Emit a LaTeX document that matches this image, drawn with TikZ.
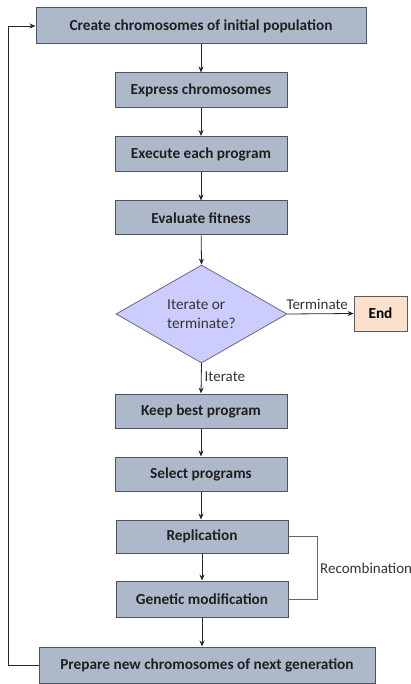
\documentclass[tikz,border=0pt]{standalone}
\usepackage{fontspec}
\setmainfont{Carlito}
\usetikzlibrary{shapes.geometric,arrows.meta}
\definecolor{boxfill}{HTML}{ADB9CA}
\definecolor{boxline}{HTML}{4A5462}
\definecolor{diafill}{HTML}{CCCCFF}
\definecolor{diline}{HTML}{6A6A80}
\definecolor{endfill}{HTML}{FBE0CC}
\definecolor{endline}{HTML}{5A5A5A}
\tikzset{
  stepbox/.style={draw=boxline, fill=boxfill, line width=1pt, inner sep=0pt,
    font=\fontsize{15.3}{17}\selectfont\bfseries, text=black!88},
  decide/.style={diamond, draw=diline, fill=diafill, line width=0.8pt, inner sep=0pt,
    minimum width=171pt, minimum height=98pt, aspect=1.745,
    font=\fontsize{15.3}{19}\selectfont, align=left, text=black!80},
  endbox/.style={draw=endline, fill=endfill, line width=0.8pt, inner sep=0pt,
    font=\fontsize{15.3}{17}\selectfont\bfseries, minimum width=53pt, minimum height=35pt},
  flow/.style={draw=black!85, line width=0.8pt, -{Stealth[length=6pt,width=5pt]}},
  lbl/.style={font=\fontsize{15}{17}\selectfont, text=black!80, inner sep=0pt},
  bracket/.style={draw=black!60, line width=0.7pt}
}
\begin{document}
\begin{tikzpicture}[x=1pt,y=-1pt]
\useasboundingbox (0,0) rectangle (411,684);
\node[stepbox, minimum width=330pt, minimum height=36pt] (create) at (201,26) {Create chromosomes of initial population};
\node[stepbox, minimum width=172pt, minimum height=35pt] (express) at (201,90.5) {Express chromosomes};
\node[stepbox, minimum width=172pt, minimum height=35pt] (execute) at (201,154) {Execute each program};
\node[stepbox, minimum width=172pt, minimum height=34pt] (evaluate) at (201,218) {Evaluate fitness};
\node[decide] (decide) at (201.5,314) {Iterate or\\terminate?};
\node[endbox] (end) at (380.5,313.5) {End};
\node[stepbox, minimum width=172pt, minimum height=34pt] (keep) at (201,411) {Keep best program};
\node[stepbox, minimum width=172pt, minimum height=34pt] (select) at (201,474) {Select programs};
\node[stepbox, minimum width=172pt, minimum height=33pt] (repl) at (202,536.5) {Replication};
\node[stepbox, minimum width=172pt, minimum height=36pt] (genetic) at (202,599) {Genetic modification};
\node[stepbox, minimum width=336pt, minimum height=36pt] (prepare) at (207,665) {Prepare new chromosomes of next generation};

\coordinate (rb1) at (317,536.5);
\coordinate (rb2) at (317,599);
\coordinate (fb1) at (8,665);
\coordinate (fb2) at (8,26);

\draw[flow] (create.south -| express.north) -- (express.north);
\draw[flow] (express) -- (execute);
\draw[flow] (execute) -- (evaluate);
\draw[flow] (evaluate) -- (decide.north);
\draw[flow] (decide.east) -- node[lbl, above=4pt, pos=0.45] (termlbl) {Terminate} (end.west);
\draw[flow] (decide.south) -- node[lbl, right=3pt, pos=0.45] (iterlbl) {Iterate} (keep.north);
\draw[flow] (keep) -- (select);
\draw[flow] (select.south) -- (repl.north -| select.south);
\draw[flow] (repl) -- (genetic);
\draw[flow] (genetic.south) -- (prepare.north -| genetic.south);
\draw[bracket] (repl.east) -- (rb1) -- (rb2) -- (genetic.east);
\node[lbl, anchor=west] (recomb) at (320,568) {Recombination};
\draw[flow] (prepare.west) -- (fb1) -- (fb2) -- (create.west);
\end{tikzpicture}
\end{document}
